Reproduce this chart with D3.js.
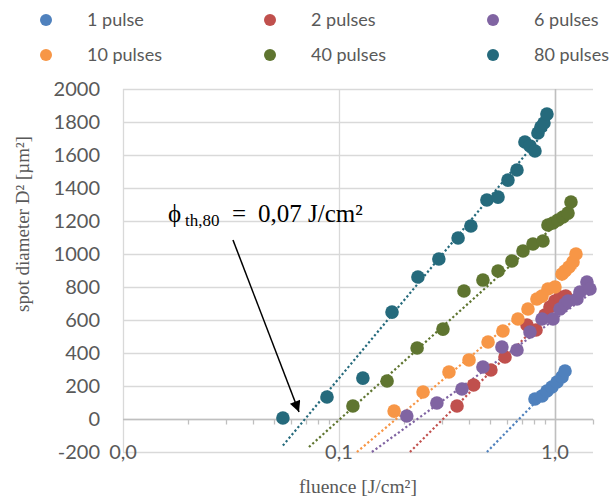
<!DOCTYPE html>
<html>
<head>
<meta charset="utf-8">
<script src="https://cdn.jsdelivr.net/npm/d3@7"></script>
<style>
  body { margin: 0; background: #fff; }
  svg { display: block; }
</style>
</head>
<body>
<svg id="chart" width="613" height="503"></svg>
<script>
// Series names and colours (legend order)
const seriesNames = ["1 pulse", "2 pulses", "6 pulses", "10 pulses", "40 pulses", "80 pulses"];
const seriesColors = ["#4F81BD", "#C0504D", "#8064A2", "#F79646", "#5F7530", "#256A7C"];

// Measured points: fluence [J/cm2] and D^2 [um2]
const fluence1 = [0.808, 0.871, 0.918, 0.968, 1.022, 1.078, 1.113];
const diam1 = [121, 139, 170, 194, 224, 255, 291];

const fluence2 = [0.352, 0.420, 0.505, 0.587, 0.742, 0.817, 0.899, 0.948, 0.999, 1.055, 1.122];
const diam2 = [79, 206, 297, 376, 570, 539, 630, 679, 715, 739, 745];

const fluence6 = [0.206, 0.284, 0.371, 0.464, 0.568, 0.667, 0.766, 0.871, 0.979, 1.055, 1.113, 1.149, 1.264, 1.305, 1.406, 1.452];
const diam6 = [18, 97, 182, 315, 436, 418, 527, 606, 606, 667, 697, 715, 727, 770, 830, 788];

const fluence10 = [0.180, 0.245, 0.323, 0.400, 0.490, 0.574, 0.674, 0.750, 0.825, 0.871, 0.928, 1.000, 1.078, 1.113, 1.161, 1.212, 1.251];
const diam10 = [48, 164, 285, 358, 467, 533, 606, 667, 727, 745, 788, 800, 879, 897, 921, 952, 1000];

const fluence40 = [0.116, 0.167, 0.230, 0.303, 0.379, 0.464, 0.545, 0.632, 0.711, 0.791, 0.880, 0.928, 0.979, 1.033, 1.089, 1.149, 1.186];
const diam40 = [79, 230, 430, 545, 776, 842, 897, 958, 1018, 1061, 1079, 1176, 1188, 1206, 1224, 1248, 1315];

const fluence80 = [0.055, 0.088, 0.129, 0.176, 0.232, 0.290, 0.356, 0.408, 0.484, 0.545, 0.606, 0.667, 0.726, 0.766, 0.808, 0.834, 0.861, 0.889, 0.918];
const diam80 = [6, 133, 248, 648, 861, 970, 1097, 1170, 1327, 1345, 1448, 1509, 1679, 1655, 1624, 1733, 1770, 1794, 1848];

// Logarithmic trendlines (straight on the log axis), read as end points [fluence, D2]
const trendStart = [[0.484, -200], [0.213, -200], [0.142, -200], [0.121, -200], [0.0726, -170], [0.0550, -161]];
const trendEnd = [[1.113, 285], [1.122, 739], [1.452, 758], [1.251, 915], [1.186, 1261], [0.918, 1758]];

// Axis ticks
const yTicks = [-200, 0, 200, 400, 600, 800, 1000, 1200, 1400, 1600, 1800, 2000];
const xMajor = [0.01, 0.1, 1];
const xMajorLabels = ["0,0", "0,1", "1,0"];

// Annotation arrow, in data units
const arrowFrom = [0.0323, 1085];
const arrowTo = [0.0653, 42];

const fluenceAll = [fluence1, fluence2, fluence6, fluence10, fluence40, fluence80];
const diamAll = [diam1, diam2, diam6, diam10, diam40, diam80];

const svg = d3.select("#chart");
const plotLeft = 123, plotRight = 593, plotTop = 89, plotBottom = 452;

const x = d3.scaleLog().domain([0.01, 1.5]).range([plotLeft, plotRight]);
const y = d3.scaleLinear().domain([-200, 2000]).range([plotBottom, plotTop]);

const grey = "#595959";

// Gridlines -------
svg.append("g").selectAll("line")
  .data(yTicks)
  .join("line")
  .attr("x1", plotLeft).attr("x2", plotRight)
  .attr("y1", d => Math.round(y(d)) + 0.5).attr("y2", d => Math.round(y(d)) + 0.5)
  .attr("stroke", "#d9d9d9").attr("stroke-width", 1.3);

svg.append("g").selectAll("line")
  .data(xMajor)
  .join("line")
  .attr("x1", d => Math.round(x(d)) + 0.5).attr("x2", d => Math.round(x(d)) + 0.5)
  .attr("y1", plotTop).attr("y2", plotBottom)
  .attr("stroke", "#d9d9d9").attr("stroke-width", 1.3);

// Axis lines: horizontal one crosses at D2 = 0, vertical one at fluence = 1
svg.append("line")
  .attr("x1", Math.round(x(1)) + 0.5).attr("x2", Math.round(x(1)) + 0.5)
  .attr("y1", plotTop).attr("y2", plotBottom)
  .attr("stroke", "#bfbfbf").attr("stroke-width", 1.5);

const y0 = Math.round(y(0)) + 0.5;
svg.append("line")
  .attr("x1", plotLeft).attr("x2", plotRight)
  .attr("y1", y0).attr("y2", y0)
  .attr("stroke", "#bfbfbf").attr("stroke-width", 1.5);

// minor ticks on the log axis
const minorTicks = [];
[0.01, 0.1].forEach(dec => {
  for (let k = 2; k <= 9; k++) minorTicks.push(dec * k);
});
minorTicks.push(1.5);
svg.append("g").selectAll("line")
  .data(minorTicks)
  .join("line")
  .attr("x1", d => Math.round(x(d)) + 0.5).attr("x2", d => Math.round(x(d)) + 0.5)
  .attr("y1", y0).attr("y2", y0 + 5)
  .attr("stroke", "#bfbfbf").attr("stroke-width", 1.3);

// Y tick labels
svg.append("g").selectAll("text")
  .data(yTicks)
  .join("text")
  .attr("x", 100)
  .attr("y", d => y(d))
  .attr("dy", "0.36em")
  .attr("text-anchor", "end")
  .attr("font-family", "Lato, sans-serif")
  .attr("font-size", 20)
  .attr("fill", grey)
  .text(d => d);

// X tick labels (sit on the bottom gridline)
svg.append("g").selectAll("text")
  .data(xMajor)
  .join("text")
  .attr("x", d => x(d))
  .attr("y", plotBottom)
  .attr("dy", "0.36em")
  .attr("text-anchor", "middle")
  .attr("font-family", "Lato, sans-serif")
  .attr("font-size", 20)
  .attr("fill", grey)
  .text((d, i) => xMajorLabels[i]);

// Axis titles
svg.append("text")
  .attr("transform", "translate(29,224) rotate(-90)")
  .attr("text-anchor", "middle")
  .attr("font-family", "'Liberation Serif', serif")
  .attr("font-size", 19)
  .attr("fill", grey)
  .text("spot diameter D² [µm²]");

svg.append("text")
  .attr("x", 358).attr("y", 493)
  .attr("text-anchor", "middle")
  .attr("font-family", "'Liberation Serif', serif")
  .attr("font-size", 19.5)
  .attr("fill", grey)
  .text("fluence [J/cm²]");

// Trendlines -------
const plot = svg.append("g");
seriesNames.forEach((name, i) => {
  plot.append("line")
    .attr("x1", x(trendStart[i][0])).attr("y1", y(trendStart[i][1]))
    .attr("x2", x(trendEnd[i][0])).attr("y2", y(trendEnd[i][1]))
    .attr("stroke", seriesColors[i])
    .attr("stroke-width", 2.2)
    .attr("stroke-dasharray", "2.2 2.4");
});

// Markers -------
seriesNames.forEach((name, i) => {
  const pts = fluenceAll[i].map((f, j) => ({ f: f, d: diamAll[i][j] }));
  plot.append("g").selectAll("circle")
    .data(pts)
    .join("circle")
    .attr("cx", d => x(d.f))
    .attr("cy", d => y(d.d))
    .attr("r", 6.8)
    .attr("fill", seriesColors[i]);
});

// Legend -------
const legendX = [46, 270, 493];
const legendY = [20, 55];
seriesNames.forEach((name, i) => {
  const col = i % 3, row = Math.floor(i / 3);
  svg.append("circle")
    .attr("cx", legendX[col]).attr("cy", legendY[row])
    .attr("r", 6)
    .attr("fill", seriesColors[i]);
  svg.append("text")
    .attr("x", legendX[col] + 41).attr("y", legendY[row])
    .attr("dy", "0.36em")
    .attr("font-family", "Lato, sans-serif")
    .attr("font-size", 18)
    .attr("fill", grey)
    .text(name);
});

// Annotation -------
svg.append("defs").append("marker")
  .attr("id", "head")
  .attr("viewBox", "0 0 10 10")
  .attr("refX", 10).attr("refY", 5)
  .attr("markerWidth", 15).attr("markerHeight", 11)
  .attr("markerUnits", "userSpaceOnUse")
  .attr("orient", "auto")
  .append("path")
  .attr("d", "M0,0 L10,5 L0,10 Z")
  .attr("fill", "#000");

svg.append("line")
  .attr("x1", x(arrowFrom[0])).attr("y1", y(arrowFrom[1]))
  .attr("x2", x(arrowTo[0])).attr("y2", y(arrowTo[1]))
  .attr("stroke", "#000").attr("stroke-width", 1.5)
  .attr("marker-end", "url(#head)");

const ann = svg.append("text")
  .attr("y", 222)
  .attr("font-family", "'Liberation Serif', 'DejaVu Serif', serif")
  .attr("fill", "#000");
ann.append("tspan").attr("x", 168).attr("font-size", 25).text("ϕ");
ann.append("tspan").attr("x", 185).attr("dy", 4).attr("font-size", 17).text("th,80");
ann.append("tspan").attr("x", 232).attr("dy", -4).attr("font-size", 25).text("=");
ann.append("tspan").attr("x", 258).attr("font-size", 25).text("0,07 J/cm²");
</script>
</body>
</html>
